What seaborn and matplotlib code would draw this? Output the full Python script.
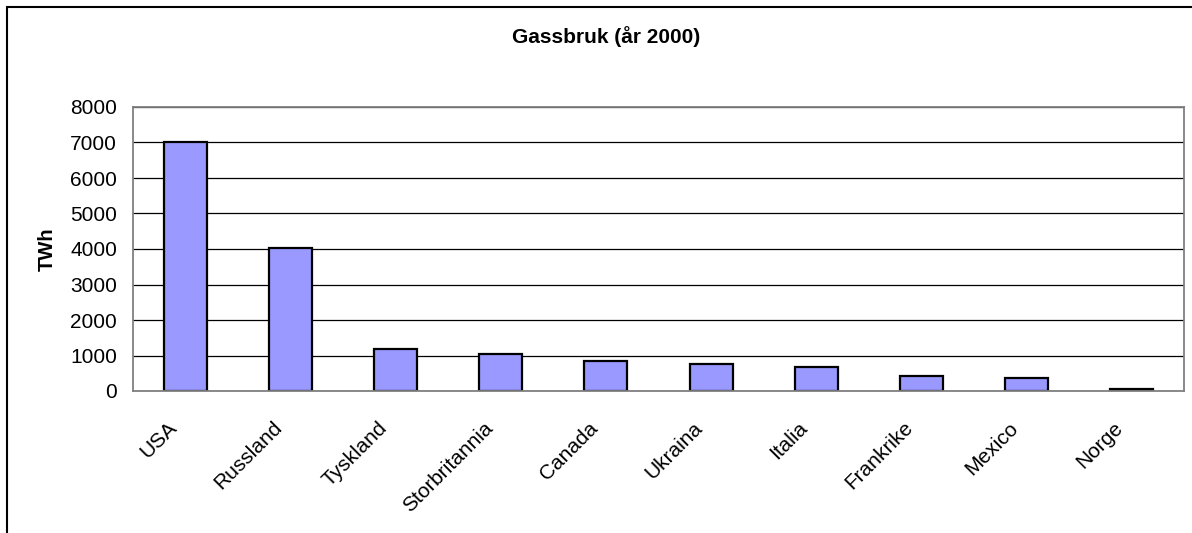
import pandas as pd
import numpy as np
import matplotlib
matplotlib.use('Agg')
import matplotlib.pyplot as plt
import matplotlib.transforms as mtransforms
import seaborn as sns
from matplotlib.patches import Rectangle

# Data
countries = ['USA', 'Russland', 'Tyskland', 'Storbritannia', 'Canada',
             'Ukraina', 'Italia', 'Frankrike', 'Mexico', 'Norge']
twh = [7000, 4020, 1170, 1035, 840, 750, 685, 420, 375, 45]
yticks = [0, 1000, 2000, 3000, 4000, 5000, 6000, 7000, 8000]

df = pd.DataFrame({'Land': countries, 'TWh': twh})

sns.set_style('white')
plt.rcParams['font.family'] = ['Liberation Sans', 'DejaVu Sans']
plt.rcParams['text.color'] = 'black'

fig = plt.figure(figsize=(11.92, 5.33), dpi=100)
ax = fig.add_axes([133 / 1192, 1 - 391 / 533, (1184 - 133) / 1192, (391 - 107) / 533])

sns.barplot(data=df, x='Land', y='TWh', color='#9999FF', edgecolor='black',
            linewidth=1.6, width=0.41, saturation=1, ax=ax)

ax.set_ylim(0, 8000)
ax.set_xlim(-0.5, len(countries) - 0.5)
ax.set_yticks(yticks)
ax.set_yticklabels([str(v) for v in yticks], fontsize=15, color='black')
ax.yaxis.grid(True, color='black', linewidth=0.9)
ax.set_axisbelow(True)

# category ticks sit between the bars
ax.set_xticks(np.arange(len(countries)))
ax.set_xticklabels(countries, rotation=45, ha='right', va='top',
                   rotation_mode='anchor', fontsize=15, color='black')
ax.tick_params(axis='x', which='major', length=0, pad=21)
shift = mtransforms.ScaledTranslation(-18 / 100, 2 / 100, fig.dpi_scale_trans)
for lbl in ax.get_xticklabels():
    lbl.set_transform(lbl.get_transform() + shift)
ax.set_xticks(np.arange(-0.5, len(countries)), minor=True)
ax.tick_params(axis='x', which='minor', length=5, width=0.9, color='black', direction='out')
ax.tick_params(axis='y', length=4.5, width=0.9, color='black', direction='out', pad=7)

for s in ax.spines.values():
    s.set_color('#808080')
    s.set_linewidth(1.3)
    s.set_visible(True)

ax.set_xlabel('')
ax.set_ylabel('TWh', fontsize=14.5, fontweight='bold', labelpad=10, color='black')

fig.text(606 / 1192, 1 - 37 / 533, 'Gassbruk (år 2000)', ha='center', va='center',
         fontsize=15, fontweight='bold', color='black')

# chart border (right and bottom run off the picture)
fig.patches.append(Rectangle((7 / 1192, -0.05), 1.2, 1 - 7 / 533 + 0.05,
                             transform=fig.transFigure, fill=False,
                             edgecolor='black', linewidth=1.5))

fig.savefig('out.png', dpi=100)
plt.close()
